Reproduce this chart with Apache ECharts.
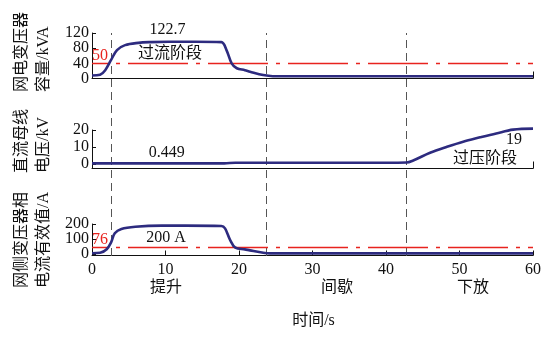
<!DOCTYPE html>
<html>
<head>
<meta charset="utf-8">
<script src="https://cdn.jsdelivr.net/npm/echarts@6/dist/echarts.min.js"></script>
<style>
html,body{margin:0;padding:0;background:#fff;}
#chart{width:555px;height:337px;}
</style>
</head>
<body>
<div id="chart"></div>
<script>
// ---- data ----
const time1 = [0, 1.1, 1.8, 2.6, 3.4, 4.5, 6.3, 8, 10.4, 14, 17.6, 18.3, 19.0, 19.7, 20.8, 21.5, 23.3, 24.6, 30, 40, 50, 60];
const capacity = [8, 10, 22, 49, 75, 88, 94, 96, 97, 97, 96, 75, 40, 27, 22, 18, 9, 6, 6, 6, 6, 6];

const time2 = [0, 10, 18, 19.5, 30, 40, 42.8, 43.7, 46.0, 48.3, 50.5, 52.8, 55.0, 57.3, 60];
const dcVoltage = [0.5, 0.5, 0.5, 0.9, 0.9, 0.9, 1.0, 2.2, 6.7, 10.2, 13.2, 15.7, 18, 20.2, 20.8];

const time3 = [0, 1.1, 2.0, 2.6, 3.1, 4.0, 5.9, 9.5, 12.7, 17.6, 18.1, 18.8, 19.5, 20.8, 21.5, 23.3, 24.2, 30, 40, 50, 60];
const gridCurrent = [5, 8, 32, 78, 138, 167, 182, 189, 189, 187, 171, 93, 42, 31, 24, 8, 4, 4, 4, 4, 4];

const phaseTimes = [2.6, 23.7, 42.8];
const phaseNames = ['提升', '间歇', '下放'];

const capLimit = 40, capLimitLabel = '50';
const currentLimit = 44, currentLimitLabel = '76';

const yTicks1 = [0, 40, 80, 120];
const yTicks2 = [0, 10, 20];
const yTicks3 = [0, 100, 200];
const xTicks = [0, 10, 20, 30, 40, 50, 60];

const yTitles = ['网电变压器\n容量/kVA', '直流母线\n电压/kV', '网侧变压器相\n电流有效值/A'];
const xTitle = '时间/s';
const notes = ['122.7', '过流阶段', '0.449', '19', '过压阶段', '200 A'];

// ---- chart ----
const FONT = "'Liberation Serif','Noto Sans CJK SC',serif";
const RED = '#e8231e';
const zip = (a, b) => a.map((t, i) => [t, b[i]]);
const evenIdx = a => a.filter((v, i) => i % 2 === 0);
const oddIdx = a => a.filter((v, i) => i % 2 === 1);
const chart = echarts.init(document.getElementById('chart'), null, {renderer: 'canvas'});

const L = 92, R = 22;
const grids = [
  {left: L, right: R, top: 33, height: 45.5},
  {left: L, right: R, top: 130, height: 38.5},
  {left: L, right: R, top: 224, height: 31.5},
  {left: L, right: R, top: 33, height: 223}
];

function xAxis(i, showLabels) {
  return {
    type: 'value', gridIndex: i, min: 0, max: 60,
    axisLine: {show: true, onZero: false, lineStyle: {color: '#111', width: 1}},
    splitLine: {show: false},
    axisTick: showLabels ? {inside: true, length: 5, customValues: xTicks, lineStyle: {color: '#111'}}
                         : {inside: true, length: 7, customValues: [60], lineStyle: {color: '#111'}},
    axisLabel: showLabels ? {customValues: xTicks, fontFamily: FONT, fontSize: 16, color: '#111', margin: 6,
                             showMinLabel: true, showMaxLabel: true, hideOverlap: false}
                          : {show: false}
  };
}
function yAxis(i, min, max, ticks, labels) {
  return {
    type: 'value', gridIndex: i, min: min, max: max, position: 'left',
    axisLine: {show: true, onZero: false, lineStyle: {color: '#111', width: 1}},
    splitLine: {show: false},
    axisTick: {inside: true, length: 4, customValues: ticks, lineStyle: {color: '#111'}},
    axisLabel: {customValues: labels, fontFamily: FONT, fontSize: 16, color: '#111', margin: 3,
                showMinLabel: true, showMaxLabel: true, hideOverlap: false}
  };
}
function yLabelsOnly(i, min, max, labels) {
  return {
    type: 'value', gridIndex: i, min: min, max: max, position: 'left',
    axisLine: {show: false}, axisTick: {show: false}, splitLine: {show: false},
    axisLabel: {customValues: labels, fontFamily: FONT, fontSize: 16, color: '#111', margin: 3,
                showMinLabel: true, showMaxLabel: true, hideOverlap: false}
  };
}

const curveStyle = {color: '#2d2b7f', width: 2.6};
function curve(i, data) {
  return {
    type: 'line', xAxisIndex: i, yAxisIndex: i, data: data,
    showSymbol: false, smooth: 0.35, clip: false,
    itemStyle: {color: '#2d2b7f'},
    lineStyle: curveStyle, z: 5
  };
}
function limitLine(value, label) {
  const ls = {color: RED, width: 1.3, opacity: 1, type: [60, 8, 4, 8], dashOffset: 44};
  return {
    silent: true, symbol: ['none', 'none'],
    itemStyle: {color: RED},
    lineStyle: ls,
    label: {show: true, formatter: label, position: 'insideStartTop', color: RED,
            fontFamily: FONT, fontSize: 16, distance: [0, 0]},
    emphasis: {disabled: true},
    data: [{yAxis: value, lineStyle: ls}]
  };
}

const s1 = curve(0, zip(time1, capacity));
s1.markLine = limitLine(capLimit, capLimitLabel);
const s2 = curve(1, zip(time2, dcVoltage));
const s3 = curve(2, zip(time3, gridCurrent));
s3.markLine = limitLine(currentLimit, currentLimitLabel);

const sV = {
  type: 'line', xAxisIndex: 3, yAxisIndex: 3, data: [], z: 3,
  markLine: {
    silent: true, symbol: ['none', 'none'],
    lineStyle: {color: '#555', width: 1, type: [8, 5]},
    label: {show: false},
    data: phaseTimes.map(t => ({xAxis: t}))
  }
};

function txt(x, y, text, opts) {
  return Object.assign({
    type: 'text', x: x, y: y,
    style: {text: text, font: '16px ' + FONT, fill: '#111', align: 'center', verticalAlign: 'middle'}
  }, opts || {});
}
function yTitle(bottom, text) {
  return {
    type: 'text', x: 33, y: bottom, rotation: Math.PI / 2,
    style: {text: text, font: '16px ' + FONT, fill: '#111', align: 'left', verticalAlign: 'middle', lineHeight: 21.5}
  };
}

const graphics = [
  yTitle(92, yTitles[0]),
  yTitle(173, yTitles[1]),
  yTitle(288, yTitles[2]),
  txt(167.5, 30, notes[0]),
  txt(170, 54, notes[1]),
  txt(166.7, 153, notes[2]),
  txt(514, 140, notes[3]),
  txt(485, 159, notes[4]),
  txt(166, 238, notes[5]),
  txt(166, 288, phaseNames[0]),
  txt(337, 288, phaseNames[1]),
  txt(473, 288, phaseNames[2]),
  txt(313.5, 321, xTitle)
];

chart.setOption({
  animation: false,
  backgroundColor: '#fff',
  grid: grids,
  xAxis: [xAxis(0, false), xAxis(1, false), xAxis(2, true),
          {type: 'value', gridIndex: 3, min: 0, max: 60, show: false}],
  yAxis: [yAxis(0, 0, 120, yTicks1, evenIdx(yTicks1)),
          yAxis(1, -2.5, 20, yTicks2, yTicks2),
          yAxis(2, -10, 200, yTicks3, evenIdx(yTicks3)),
          {type: 'value', gridIndex: 3, min: 0, max: 1, show: false},
          yLabelsOnly(0, 0, 120, oddIdx(yTicks1)),
          yLabelsOnly(2, -10, 200, oddIdx(yTicks3))],
  series: [sV, s1, s2, s3],
  graphic: graphics
});
</script>
</body>
</html>
